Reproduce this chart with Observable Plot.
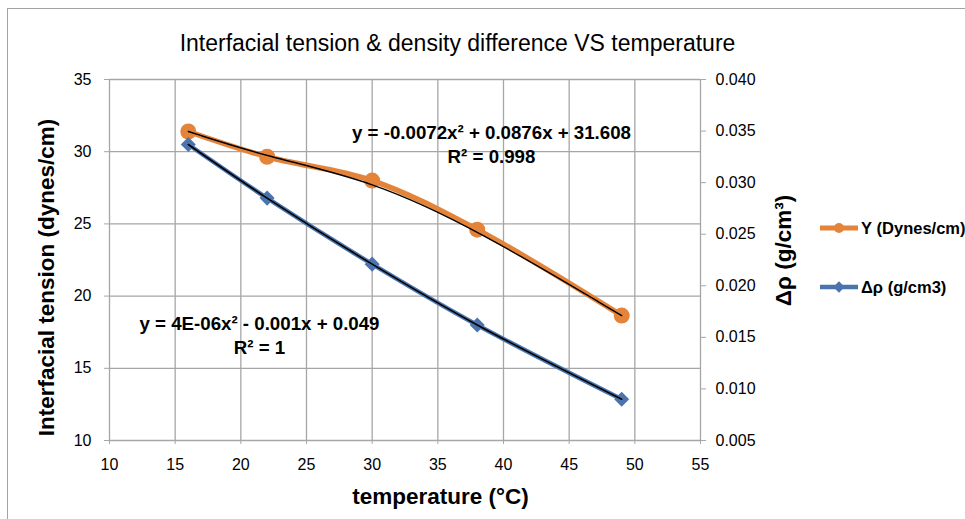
<!DOCTYPE html>
<html><head><meta charset="utf-8">
<script src="https://cdn.jsdelivr.net/npm/d3@7"></script>
<script src="https://cdn.jsdelivr.net/npm/@observablehq/plot@0.6"></script>
<style>
body{margin:0;background:#fff;}
#wrap{position:relative;width:965px;height:519px;overflow:hidden;font-family:"Liberation Sans",Arial,sans-serif;}
#border{position:absolute;left:7px;top:8px;width:1200px;height:1200px;border:1px solid #a3a3a3;}
#legend{position:absolute;left:820px;top:0;}
.item{position:absolute;left:0;display:flex;align-items:center;white-space:nowrap;font-weight:bold;font-size:16.5px;color:#000;}
.item svg{display:block;margin-right:3px;}
</style>
</head><body>
<div id="wrap"><div id="border"></div><div id="legend"></div></div>
<script>
// ---- data ----
const temperature = [16, 22, 30, 38, 49];
const tension = [31.4, 29.65, 28.0, 24.6, 18.65];          // Υ (Dynes/cm), left axis
const deltaRho = [0.0337, 0.0285, 0.0221, 0.0162, 0.0090];  // Δρ (g/cm3), right axis
const xTicks = [10, 15, 20, 25, 30, 35, 40, 45, 50, 55];
const leftTicks = [10, 15, 20, 25, 30, 35];
const rightTicks = [0.005, 0.010, 0.015, 0.020, 0.025, 0.030, 0.035, 0.040];
const titleText = "Interfacial tension & density difference VS temperature";
const xLabel = "temperature (°C)";
const leftLabel = "Interfacial tension (dynes/cm)";
const rightLabel = "Δρ (g/cm³)";
const seriesNames = ["Υ (Dynes/cm)", "Δρ (g/cm3)"];
const eqOrange = ["y = -0.0072x² + 0.0876x + 31.608", "R² = 0.998"];
const eqBlue = ["y = 4E-06x² - 0.001x + 0.049", "R² = 1"];

const orange = "#e4843a", blue = "#4a74ad";
const leftDomain = [10, 35], rightDomain = [0.005, 0.040];
const toLeft = v => leftDomain[0] + (v - rightDomain[0]) / (rightDomain[1] - rightDomain[0]) * (leftDomain[1] - leftDomain[0]);
const fromLeft = v => rightDomain[0] + (v - leftDomain[0]) / (leftDomain[1] - leftDomain[0]) * (rightDomain[1] - rightDomain[0]);

const T = temperature.map((t, i) => ({t, y: tension[i]}));
const R = temperature.map((t, i) => ({t, y: toLeft(deltaRho[i])}));

const font = `"Liberation Sans",Arial,sans-serif`;
const grid = "#a6a6a6";

const chart = Plot.plot({
  width: 965, height: 519,
  marginLeft: 109, marginRight: 265, marginTop: 79, marginBottom: 79,
  style: {fontFamily: font, fontSize: "16px", color: "#000", background: "transparent", overflow: "visible"},
  x: {domain: [10, 55], ticks: xTicks},
  y: {domain: leftDomain, ticks: leftTicks},
  marks: [
    Plot.gridX(xTicks, {stroke: grid, strokeOpacity: 1, strokeWidth: 1.3}),
    Plot.gridY(leftTicks, {stroke: grid, strokeOpacity: 1, strokeWidth: 1.3}),
    Plot.axisX(xTicks, {tickSize: 4, tickPadding: 14, stroke: grid, fill: "#000", label: null, fontSize: 16}),
    Plot.axisY(leftTicks, {tickSize: 5, tickPadding: 13, stroke: grid, fill: "#000", label: null, fontSize: 16}),
    Plot.axisY(rightTicks.map(toLeft), {anchor: "right", tickSize: 5, tickPadding: 10, stroke: grid, fill: "#000", label: null, fontSize: 16,
      tickFormat: d => fromLeft(d).toFixed(3)}),
    Plot.line(T, {x: "t", y: "y", stroke: orange, strokeWidth: 5.5, curve: "catmull-rom"}),
    Plot.dot(T, {x: "t", y: "y", fill: orange, r: 8, stroke: null}),
    Plot.line(R, {x: "t", y: "y", stroke: blue, strokeWidth: 4.5, curve: "catmull-rom"}),
    Plot.dot(R, {x: "t", y: "y", fill: blue, symbol: "square", r: 6, rotate: 45, stroke: null}),
    Plot.line(T, {x: "t", y: "y", stroke: "#000", strokeWidth: 1.4, curve: "basis"}),
    Plot.line(R, {x: "t", y: "y", stroke: "#000", strokeWidth: 1.6, curve: "catmull-rom"}),
    Plot.text([titleText], {frameAnchor: "top", dx: 52.5, dy: -36, lineAnchor: "middle", fontSize: 23, fill: "#000"}),
    Plot.text([xLabel], {frameAnchor: "bottom", dx: 35.5, dy: 56, lineAnchor: "middle", fontSize: 22.5, fontWeight: "bold", fill: "#000"}),
    Plot.text([leftLabel], {frameAnchor: "left", textAnchor: "middle", lineAnchor: "middle", rotate: -90, dx: -63, dy: 17.5, fontSize: 22.5, fontWeight: "bold", fill: "#000"}),
    Plot.text([rightLabel], {frameAnchor: "right", textAnchor: "middle", lineAnchor: "middle", rotate: -90, dx: 83, dy: -9.5, fontSize: 22.5, fontWeight: "bold", fill: "#000"}),
    Plot.text([eqOrange.join("\n")], {frameAnchor: "top-left", textAnchor: "middle", lineAnchor: "middle", lineHeight: 1.28,
      dx: 382, dy: 63.5, fontSize: 18.7, fontWeight: "bold", fill: "#000"}),
    Plot.text([eqBlue.join("\n")], {frameAnchor: "top-left", textAnchor: "middle", lineAnchor: "middle", lineHeight: 1.28,
      dx: 150, dy: 255, fontSize: 18.7, fontWeight: "bold", fill: "#000"})
  ]
});
const wrap = document.getElementById("wrap");
wrap.insertBefore(chart, document.getElementById("legend"));
chart.style.position = "absolute"; chart.style.left = "0"; chart.style.top = "0";

// legend (HTML overlay)
const legend = document.getElementById("legend");
const swatches = [
  {name: seriesNames[0], color: orange, top: 228, marker: `<circle cx="19" cy="7" r="5" fill="${orange}"/>`, w: 5},
  {name: seriesNames[1], color: blue, top: 287, marker: `<rect x="15" y="3" width="8" height="8" fill="${blue}" transform="rotate(45 19 7)"/>`, w: 4.5}
];
swatches.forEach(s => {
  const d = document.createElement("div");
  d.className = "item";
  d.style.top = (s.top - 10) + "px";
  d.innerHTML = `<svg width="38" height="14"><line x1="0" x2="38" y1="7" y2="7" stroke="${s.color}" stroke-width="${s.w}"/>${s.marker}</svg><span style="line-height:20px">${s.name}</span>`;
  legend.appendChild(d);
});
</script>
</body></html>
